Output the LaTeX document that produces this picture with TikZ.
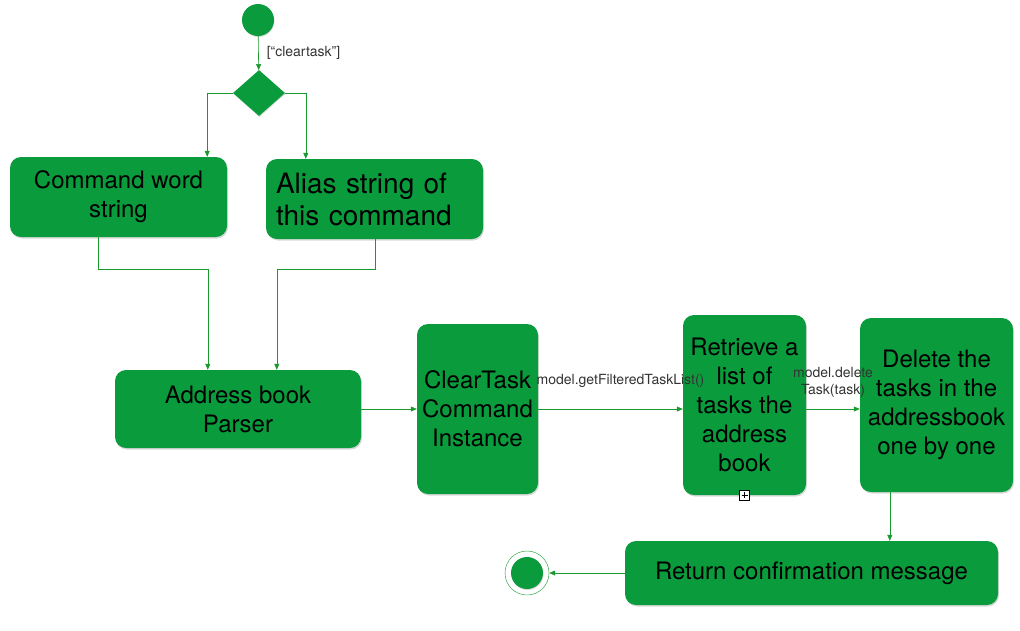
\documentclass[tikz,border=0pt]{standalone}
\usepackage{fontspec}
\setmainfont{TeX Gyre Heros}
\usetikzlibrary{positioning, shapes.geometric, arrows.meta, calc, shadows}
\definecolor{actgreen}{HTML}{0A9C3C}
\definecolor{linegreen}{HTML}{1A9A2E}
\tikzset{
  flow/.style={-{Triangle[length=6, width=5]}, draw=linegreen, semithick},
  activity/.style={fill=actgreen, rounded corners=11, align=center, inner sep=0,
    drop shadow={shadow xshift=1pt, shadow yshift=-1.5pt, opacity=0.3},
    font=\fontsize{24}{29}\selectfont},
  startnode/.style={circle, fill=actgreen, minimum size=32, inner sep=0,
    drop shadow={shadow xshift=0.5pt, shadow yshift=-1pt, opacity=0.3}},
  choicenode/.style={diamond, fill=actgreen, minimum width=52, minimum height=46, inner sep=0,
    drop shadow={shadow xshift=0.5pt, shadow yshift=-1pt, opacity=0.3}},
  guard/.style={font=\fontsize{14}{17}\selectfont, text=black!80, inner sep=0, align=center},
  expander/.style={draw, fill=white, minimum size=10, inner sep=0, line width=0.8pt, path picture={
    \draw[line width=0.8pt] ([yshift=-2pt]path picture bounding box.north) -- ([yshift=2pt]path picture bounding box.south);
    \draw[line width=0.8pt] ([xshift=2pt]path picture bounding box.west) -- ([xshift=-2pt]path picture bounding box.east);
  }}
}
\begin{document}
\begin{tikzpicture}[x=1pt, y=-1pt]
    \useasboundingbox (0,0) rectangle (1020,630);
    \node[startnode] (start) at (258,20) {};
    \node[choicenode] (choice) at (259,93) {};
    \draw[flow] (start) -- (choice) node [midway, right=8pt, guard] {[“cleartask”]};
    \node[activity, minimum width=217, minimum height=80] (cmdword) at (118.5,197) {Command word\\string};
    \node[activity, minimum width=217, minimum height=80, align=left, text width=197,
      font=\fontsize{28}{32}\selectfont] (alias) at (374.5,199) {Alias string of\\this command};
    \draw[flow] (choice.west) -| ([xshift=-20]cmdword.north east);
    \draw[flow] (choice.east) -| ([xshift=40]alias.north west);
    \node[activity, minimum width=246, minimum height=78] (parser) at (238,409) {Address book\\Parser};
    \draw[flow] ([xshift=88]cmdword.south west) -- ++(0,32) -| ([xshift=93]parser.north west);
    \draw[flow] ([xshift=109]alias.south west) -- ++(0,30) -| ([xshift=162]parser.north west);
    \node[activity, minimum width=121, minimum height=170] (cleartask) at (477.5,409) {ClearTask\\Command\\Instance};
    \draw[flow] (parser) -- (cleartask);
    \node[activity, minimum width=123, minimum height=180] (retrieve) at (744.5,405) {Retrieve a\\list of\\tasks the\\address\\book};
    \node[expander] (expand) at (retrieve.south) {};
    \draw[flow] (cleartask.east) -- (cleartask.east -| retrieve.west)
      node [midway, above=21pt, xshift=10pt, guard] {model.getFilteredTaskList()};
    \node[activity, minimum width=153, minimum height=174] (delete) at (936.5,405) {Delete the\\tasks in the\\addressbook\\one by one};
    \draw[flow] (cleartask.east -| retrieve.east) -- (cleartask.east -| delete.west)
      node [midway, above=11pt, guard] {model.delete\\Task(task)};
    \node[activity, minimum width=373, minimum height=64] (return) at (811.5,573) {Return confirmation message};
    \draw[flow] ([xshift=30]delete.south west) -- ([xshift=265]return.north west);
    \node[circle, draw=linegreen, fill=white, minimum size=44, inner sep=0] (finish) at (527,573) {};
    \node[startnode] (finishdot) at (finish) {};
    \draw[flow] (return) -- (finish);
\end{tikzpicture}
\end{document}
